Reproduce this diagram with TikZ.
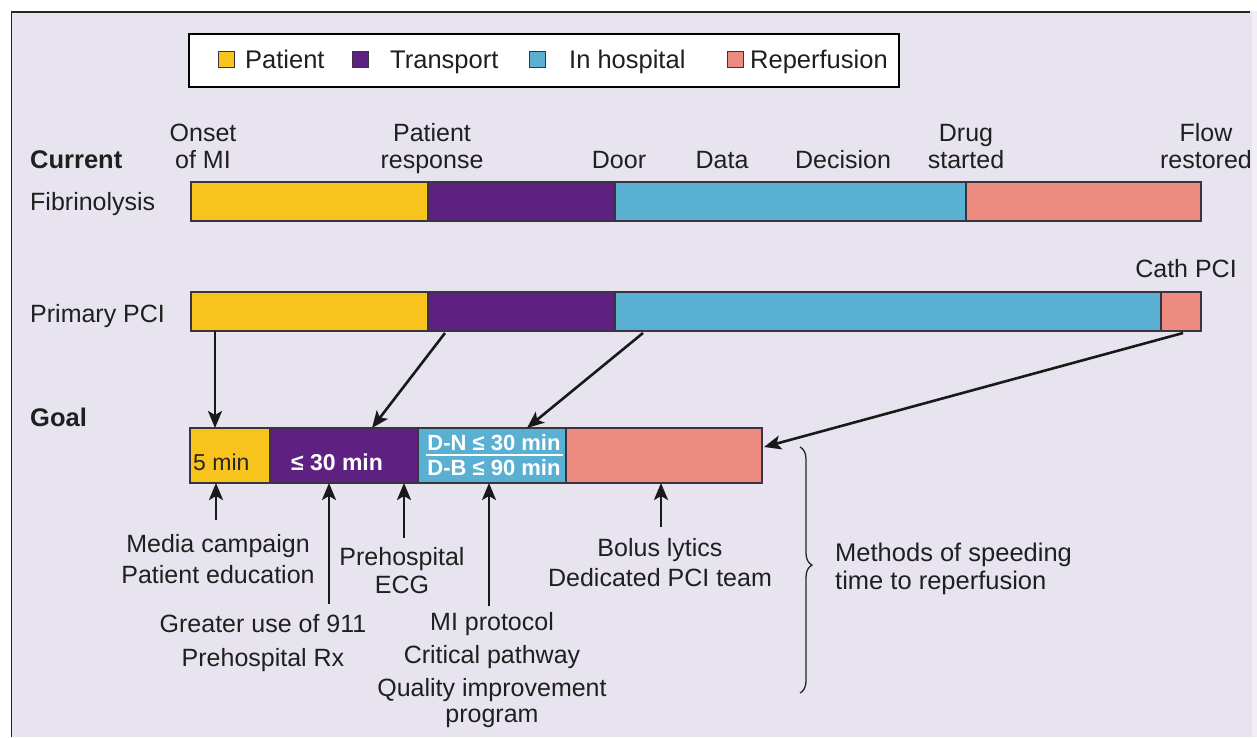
\documentclass[tikz,border=0pt]{standalone}
\usepackage{fontspec}
\setmainfont{Liberation Sans}
\usetikzlibrary{arrows.meta,decorations.pathreplacing}
\definecolor{bgc}{HTML}{E8E4EF}
\definecolor{cP}{HTML}{F8C31C}
\definecolor{cT}{HTML}{5F2181}
\definecolor{cH}{HTML}{5AB0D2}
\definecolor{cR}{HTML}{EC8B80}
\definecolor{edge}{HTML}{3A3440}
\tikzset{
  seg/.style={draw=edge, line width=1.2pt, minimum height=39, anchor=north west, inner sep=0pt, outer sep=0pt},
  gseg/.style={draw=edge, line width=1.2pt, minimum height=55, anchor=north west, inner sep=0pt, outer sep=0pt},
  lbl/.style={anchor=base, inner sep=0pt, font=\fontsize{25}{30}\selectfont, text=black!88},
  lblL/.style={lbl, anchor=base west},
  blbl/.style={lblL, font=\fontsize{25.5}{30}\selectfont\bfseries},
  sq/.style={draw=edge, line width=1pt, minimum size=16, inner sep=0pt, anchor=north west},
  arr/.style={line width=2.6pt, -{Stealth[length=17pt,width=14pt,inset=4pt]}, black!90},
  wtxt/.style={anchor=base, inner sep=0pt, text=white, font=\fontsize{22}{26}\selectfont\bfseries},
}
\begin{document}
\begin{tikzpicture}[x=1pt,y=-1pt]
\useasboundingbox (0,0) rectangle (1257,737);
\fill[bgc] (0,0) rectangle (1257,737);
\fill[bgc!60!white] (1252,0) rectangle (1257,737);
\fill[white] (0,0) rectangle (1257,11);
\fill[white] (0,0) rectangle (11,737);
\draw[line width=1.5pt, black!85] (11.5,737) -- (11.5,12) -- (1250,12);

% legend
\node[draw=black, line width=1.5pt, fill=white, minimum width=710, minimum height=53, anchor=north west, inner sep=0pt] (legend) at (188,33) {};
\node[sq, fill=cP] (lq1) at (218,51) {};
\node[lblL, font=\fontsize{25.5}{30}\selectfont] (lt1) at (245,68) {Patient};
\node[sq, fill=cT] (lq2) at (352,51) {};
\node[lblL, font=\fontsize{25.5}{30}\selectfont] (lt2) at (390,68) {Transport};
\node[sq, fill=cH] (lq3) at (529,51) {};
\node[lblL, font=\fontsize{25.5}{30}\selectfont] (lt3) at (569,68) {In hospital};
\node[sq, fill=cR] (lq4) at (727,51) {};
\node[lblL, font=\fontsize{25.5}{30}\selectfont] (lt4) at (750,68) {Reperfusion};

% top labels
\node[blbl] (current) at (30,168) {Current};
\node[lbl] (on1) at (203,141) {Onset};
\node[lbl] (on2) at (203,168) {of MI};
\node[lbl] (pr1) at (432,141) {Patient};
\node[lbl] (pr2) at (432,168) {response};
\node[lbl] (door) at (619,168) {Door};
\node[lbl] (data) at (722,168) {Data};
\node[lbl] (dec) at (843,168) {Decision};
\node[lbl] (dr1) at (966,141) {Drug};
\node[lbl] (dr2) at (966,168) {started};
\node[lbl] (fl1) at (1206,141) {Flow};
\node[lbl] (fl2) at (1206,168) {restored};

% fibrinolysis
\node[lblL] (fib) at (30,210) {Fibrinolysis};
\node[seg, fill=cP, minimum width=237] (f1) at (191,182) {};
\node[seg, fill=cT, minimum width=187] (f2) at (428,182) {};
\node[seg, fill=cH, minimum width=351] (f3) at (615,182) {};
\node[seg, fill=cR, minimum width=235] (f4) at (966,182) {};

% primary PCI
\node[lbl] (cath) at (1186,277) {Cath PCI};
\node[lblL] (ppci) at (30,322) {Primary PCI};
\node[seg, fill=cP, minimum width=237] (p1) at (191,292) {};
\node[seg, fill=cT, minimum width=187] (p2) at (428,292) {};
\node[seg, fill=cH, minimum width=546] (p3) at (615,292) {};
\node[seg, fill=cR, minimum width=40] (p4) at (1161,292) {};

% goal
\node[blbl] (goal) at (30,426) {Goal};
\node[gseg, fill=cP, minimum width=80] (g1) at (190,428) {};
\node[gseg, fill=cT, minimum width=148] (g2) at (270,428) {};
\node[gseg, fill=cH, minimum width=148] (g3) at (418,428) {};
\node[gseg, fill=cR, minimum width=196] (g4) at (566,428) {};
\node[anchor=base west, inner sep=0pt, text=black!85, font=\fontsize{23}{26}\selectfont] (t1) at (193,470) {5 min};
\node[wtxt, font=\fontsize{23}{26}\selectfont\bfseries] (t2) at (337,470) {≤ 30 min};
\node[wtxt] (t3) at (494,450) {D-N ≤ 30 min};
\node[wtxt] (t4) at (494,475) {D-B ≤ 90 min};
\draw[white, line width=2pt] (426,455) -- (563,455);

% arrows down
\coordinate (a1s) at (215,331);
\coordinate (a1e) at (215,428);
\coordinate (a2s) at (445,333);
\coordinate (a2e) at (372,428);
\coordinate (a3s) at (643,333);
\coordinate (a3e) at (527,428);
\coordinate (a4s) at (1183,333);
\coordinate (a4e) at (764,447);
\draw[arr] (a1s) -- (a1e);
\draw[arr] (a2s) -- (a2e);
\draw[arr] (a3s) -- (a3e);
\draw[arr] (a4s) -- (a4e);

% bottom labels
\node[lbl] (m1) at (218,552) {Media campaign};
\node[lbl] (m2) at (218,583) {Patient education};
\node[lbl] (gr1) at (263,632) {Greater use of 911};
\node[lbl] (gr2) at (263,666) {Prehospital Rx};
\node[lbl] (ph1) at (402,565) {Prehospital};
\node[lbl] (ph2) at (402,593) {ECG};
\node[lbl] (mi1) at (492,630) {MI protocol};
\node[lbl] (mi2) at (492,663) {Critical pathway};
\node[lbl] (mi3) at (492,696) {Quality improvement};
\node[lbl] (mi4) at (492,722) {program};
\node[lbl] (bo1) at (660,556) {Bolus lytics};
\node[lbl] (bo2) at (660,586) {Dedicated PCI team};
\node[lblL, font=\fontsize{25.5}{30}\selectfont] (me1) at (835,561) {Methods of speeding};
\node[lblL, font=\fontsize{25.5}{30}\selectfont] (me2) at (835,589) {time to reperfusion};

% arrows up
\coordinate (b1s) at (216,520);
\coordinate (b1e) at (216,483);
\coordinate (b2s) at (329,604);
\coordinate (b2e) at (329,483);
\coordinate (b3s) at (404,538);
\coordinate (b3e) at (404,483);
\coordinate (b4s) at (489,606);
\coordinate (b4e) at (489,483);
\coordinate (b5s) at (661,527);
\coordinate (b5e) at (661,483);
\draw[arr] (b1s) -- (b1e);
\draw[arr] (b2s) -- (b2e);
\draw[arr] (b3s) -- (b3e);
\draw[arr] (b4s) -- (b4e);
\draw[arr] (b5s) -- (b5e);

% brace
\coordinate (brt) at (800,447);
\coordinate (brb) at (800,693);
\draw[line width=1.3pt, black!85, decorate, decoration={brace, amplitude=12pt, aspect=0.48}] (brt) -- (brb);
\end{tikzpicture}
\end{document}
